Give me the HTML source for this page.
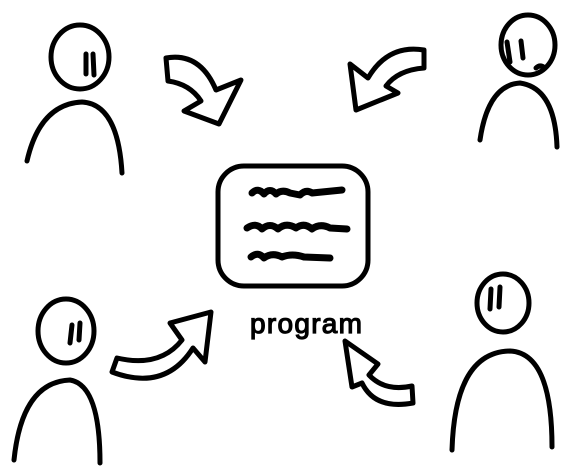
<!DOCTYPE html>
<html><head><meta charset="utf-8"><style>
html,body{margin:0;padding:0;background:#fff;}
svg{display:block;}
</style></head><body>
<svg width="574" height="469" viewBox="0 0 574 469" xmlns="http://www.w3.org/2000/svg">
<g fill="none" stroke="#000" stroke-width="5" stroke-linecap="round" stroke-linejoin="round">
<!-- TL person -->
<ellipse cx="80" cy="57" rx="29" ry="32"/>
<path d="M86 54 L86 74 M93 54 L94 75"/>
<path d="M27 161 Q40 104 82 102 Q118 104 122 173"/>
<!-- TL arrow -->
<path d="M166 58 Q200 52 216 90 L241 80 L219 124 L184 111 L201 101 Q190 84 168 81 Z"/>
<!-- TR person -->
<ellipse cx="528" cy="45" rx="27" ry="30"/>
<path d="M507 42 L510 62 M521 41 L523 58"/>
<path d="M536 68 Q540 64 545 68"/>
<path d="M480 140 Q488 85 520 83 Q555 88 557 147"/>
<!-- TR arrow -->
<path d="M424 50 Q388 44 368 78 L350 64 L356 110 L398 93 L386 86 Q398 70 424 68 Z"/>
<!-- BL person -->
<ellipse cx="66" cy="331" rx="28" ry="32"/>
<path d="M72 325 L70 343 M80 323 L79 340"/>
<path d="M14 460 Q22 382 70 380 Q100 385 100 463"/>
<!-- BL arrow -->
<path d="M117 358 Q160 368 182 340 L170 323 L211 312 L205 362 L193 348 Q165 392 112 372 Z"/>
<!-- BR person -->
<ellipse cx="503" cy="303" rx="26" ry="29"/>
<path d="M491 289 L490 309 M500 287 L499 307"/>
<path d="M452 450 Q455 352 510 351 Q552 353 552 447"/>
<!-- BR arrow -->
<path d="M345 341 L378 364 L369 375 Q385 392 412 386 L413 403 Q375 410 362 383 L352 387 Z"/>
<!-- box -->
<rect x="218" y="166" width="150" height="120" rx="26" ry="26"/>
<path stroke-width="7" d="M252 193 Q258 187 264 194 Q270 187 276 194 Q282 189 290 193 L300 195 Q306 189 312 193 L342 190"/>
<path stroke-width="7" d="M247 228 Q256 222 262 229 Q270 222 278 229 Q286 222 296 228 Q304 222 312 229 Q320 223 330 228 L347 229"/>
<path stroke-width="7" d="M251 257 Q258 251 264 258 Q272 252 282 257 Q292 253 304 257 L330 258"/>
</g>
<text x="250" y="333" font-family="Liberation Sans, sans-serif" font-size="28" fill="#000" stroke="#000" stroke-width="1.2" textLength="112">program</text>
</svg>
</body></html>
